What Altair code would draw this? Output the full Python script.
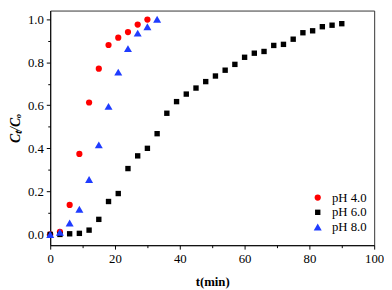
import altair as alt
import pandas as pd

t_ph4 = [0, 3, 6, 9, 12, 15, 18, 21, 24, 27, 30]
c_ph4 = [0.0, 0.012, 0.137, 0.374, 0.613, 0.77, 0.88, 0.914, 0.94, 0.975, 0.998]

t_ph6 = [0, 3, 6, 9, 12, 15, 18, 21, 24, 27, 30, 33, 36, 39, 42, 45, 48, 51, 54,
         57, 60, 63, 66, 69, 72, 75, 78, 81, 84, 87, 90]
c_ph6 = [0.0, 0.0, 0.003, 0.005, 0.02, 0.07, 0.153, 0.19, 0.306, 0.365, 0.40,
         0.468, 0.563, 0.617, 0.652, 0.68, 0.71, 0.736, 0.763, 0.79, 0.823,
         0.842, 0.85, 0.878, 0.883, 0.907, 0.937, 0.946, 0.965, 0.972, 0.979]

t_ph8 = [0, 3, 6, 9, 12, 15, 18, 21, 24, 27, 30, 33]
c_ph8 = [0.0, 0.01, 0.053, 0.117, 0.255, 0.416, 0.595, 0.754, 0.863, 0.935, 0.965, 1.0]

series = ["pH 4.0", "pH 6.0", "pH 8.0"]
colors = ["#ff0000", "#000000", "#1f3cff"]
shapes = ["circle", "square", "triangle-up"]
sizes = [40, 30, 66]

x_ticks = [0, 10, 20, 30, 40, 50, 60, 70, 80, 90, 100]
y_ticks = [0.0, 0.1, 0.2, 0.3, 0.4, 0.5, 0.6, 0.7, 0.8, 0.9, 1.0]

rows = []
for name, ts, cs in zip(series, [t_ph4, t_ph6, t_ph8], [c_ph4, c_ph6, c_ph8]):
    for t, c in zip(ts, cs):
        rows.append({"t": t, "c": c, "series": name})
df = pd.DataFrame(rows)

FONT = "Liberation Serif"

legend = alt.Legend(title=None, orient="none", legendX=266, legendY=184,
                    labelFont=FONT, labelFontSize=13, labelColor="#000",
                    rowPadding=1, labelOffset=8)

chart = alt.Chart(df).mark_point(filled=True, opacity=1).encode(
    x=alt.X("t:Q",
            scale=alt.Scale(domain=[0, 100], nice=False, zero=False),
            axis=alt.Axis(
                title="t(min)",
                values=x_ticks,
                labelExpr="datum.value % 20 === 0 ? datum.label : ''",
                tickSize={"condition": {"test": "datum.value % 20 === 0", "value": 4}, "value": 2.5},
                grid=False, labelPadding=4, titlePadding=10,
                labelFontSize=13, titleFontSize=13, titleFontWeight="bold",
                labelFont=FONT, titleFont=FONT,
                domainColor="#000", tickColor="#000", labelColor="#000", titleColor="#000",
                labelFlush=False)),
    y=alt.Y("c:Q",
            scale=alt.Scale(domain=[-0.05, 1.04], nice=False, zero=False),
            axis=alt.Axis(
                title="Cₜ/Cₒ",
                values=y_ticks,
                labelExpr="round(datum.value*10) % 2 === 0 ? format(datum.value, '.1f') : ''",
                tickSize={"condition": {"test": "round(datum.value*10) % 2 === 0", "value": 4}, "value": 2.5},
                grid=False, labelPadding=3, titlePadding=5,
                labelFontSize=13, titleFontSize=14, titleFontWeight="bold",
                titleFontStyle="italic",
                labelFont=FONT, titleFont=FONT,
                domainColor="#000", tickColor="#000", labelColor="#000", titleColor="#000",
                labelFlush=False)),
    color=alt.Color("series:N", scale=alt.Scale(domain=series, range=colors), legend=legend),
    shape=alt.Shape("series:N", scale=alt.Scale(domain=series, range=shapes), legend=legend),
    size=alt.Size("series:N", scale=alt.Scale(type="ordinal", domain=series, range=sizes), legend=legend),
).properties(
    width=330, height=239,
    autosize=alt.AutoSizeParams(type="none"),
    padding={"left": 43, "top": 0, "right": 10, "bottom": 42},
).configure_view(
    stroke="#333", strokeWidth=1
)

chart.save("out.html", embed_options={"renderer": "svg", "actions": False})
